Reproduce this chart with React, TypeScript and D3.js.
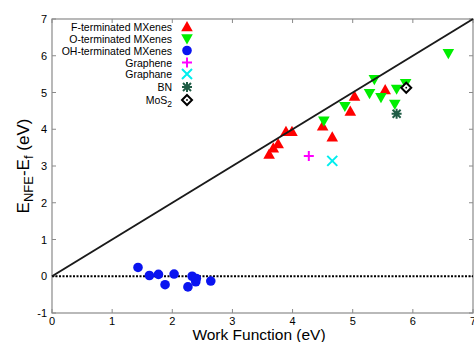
import { useRef, useEffect } from "react";
import * as d3 from "d3";

type Pt = [number, number];

const fTerminated: Pt[] = [
  [3.61, 3.31], [3.68, 3.48], [3.76, 3.6], [3.89, 3.93], [3.99, 3.93],
  [4.5, 4.08], [4.66, 3.78], [4.96, 4.48], [5.03, 4.89], [5.54, 5.07],
];
const oTerminated: Pt[] = [
  [4.52, 4.23], [4.87, 4.63], [5.28, 4.98], [5.36, 5.36], [5.47, 4.87],
  [5.7, 4.69], [5.73, 5.1], [5.88, 5.25], [6.59, 6.07],
];
const ohTerminated: Pt[] = [
  [1.43, 0.24], [1.62, 0.02], [1.77, 0.05], [1.88, -0.23], [2.03, 0.06],
  [2.26, -0.29], [2.33, 0.0], [2.39, -0.15], [2.4, -0.06], [2.64, -0.13],
];
const graphene: Pt[] = [[4.27, 3.27]];
const graphane: Pt[] = [[4.66, 3.14]];
const bn: Pt[] = [[5.73, 4.42]];
const mos2: Pt[] = [[5.89, 5.13]];

const xTicks = [0, 1, 2, 3, 4, 5, 6, 7];
const yTicks = [-1, 0, 1, 2, 3, 4, 5, 6, 7];

const series = [
  { name: "F-terminated MXenes", data: fTerminated, kind: "up", color: "#ff0000" },
  { name: "O-terminated MXenes", data: oTerminated, kind: "down", color: "#00ee00" },
  { name: "OH-terminated MXenes", data: ohTerminated, kind: "circle", color: "#0a14f0" },
  { name: "Graphene", data: graphene, kind: "plus", color: "#ff00ff" },
  { name: "Graphane", data: graphane, kind: "cross", color: "#00eeee" },
  { name: "BN", data: bn, kind: "star", color: "#1f5c45" },
  { name: "MoS2", data: mos2, kind: "diamond", color: "#000000" },
];

const drawMarker = (g: any, kind: string, color: string, cx: number, cy: number) => {
  const m = g.append("g").attr("transform", `translate(${cx},${cy})`);
  if (kind === "up") {
    m.append("path").attr("d", "M0,-6L5.8,4.2L-5.8,4.2Z").attr("fill", color);
  } else if (kind === "down") {
    m.append("path").attr("d", "M0,6L5.8,-4.2L-5.8,-4.2Z").attr("fill", color);
  } else if (kind === "circle") {
    m.append("circle").attr("r", 4.8).attr("fill", color);
  } else if (kind === "plus") {
    m.append("path").attr("d", "M-5,0H5M0,-5V5").attr("stroke", color).attr("stroke-width", 2);
  } else if (kind === "cross") {
    m.append("path").attr("d", "M-5,-5L5,5M-5,5L5,-5").attr("stroke", color).attr("stroke-width", 2);
  } else if (kind === "star") {
    m.append("path")
      .attr("d", "M-5,0H5M0,-5V5M-4,-4L4,4M-4,4L4,-4")
      .attr("stroke", color)
      .attr("stroke-width", 2);
  } else if (kind === "diamond") {
    m.append("path").attr("d", "M0,-5L5,0L0,5L-5,0Z").attr("fill", "#fff").attr("stroke", color).attr("stroke-width", 2);
    m.append("circle").attr("r", 0.9).attr("fill", color);
  }
};

const App = () => {
  const svgRef = useRef<SVGSVGElement>(null);

  useEffect(() => {
    const svg = d3.select(svgRef.current);
    svg.selectAll("*").remove();

    const left = 52, right = 473, top = 19, bottom = 313;
    const x = d3.scaleLinear().domain([0, 7]).range([left, right]);
    const y = d3.scaleLinear().domain([-1, 7]).range([bottom, top]);
    const frame = "#8a8a8a";
    const font = "Liberation Sans, Arial, Helvetica, sans-serif";

    // ticks
    const tk = svg.append("g").attr("stroke", frame).attr("stroke-width", 1);
    xTicks.forEach((t) => {
      tk.append("line").attr("x1", x(t)).attr("x2", x(t)).attr("y1", bottom).attr("y2", bottom - 4);
      tk.append("line").attr("x1", x(t)).attr("x2", x(t)).attr("y1", top).attr("y2", top + 4);
    });
    yTicks.forEach((t) => {
      tk.append("line").attr("x1", left).attr("x2", left + 4).attr("y1", y(t)).attr("y2", y(t));
      tk.append("line").attr("x1", right).attr("x2", right - 4).attr("y1", y(t)).attr("y2", y(t));
    });

    svg
      .append("rect")
      .attr("x", left)
      .attr("y", top)
      .attr("width", right - left)
      .attr("height", bottom - top)
      .attr("fill", "none")
      .attr("stroke", frame)
      .attr("stroke-width", 1.2);

    svg
      .append("g")
      .selectAll("text")
      .data(xTicks)
      .enter()
      .append("text")
      .attr("x", (d) => x(d))
      .attr("y", bottom + 12)
      .attr("text-anchor", "middle")
      .attr("font-family", font)
      .attr("font-size", 11)
      .text((d) => d);

    svg
      .append("g")
      .selectAll("text")
      .data(yTicks)
      .enter()
      .append("text")
      .attr("x", left - 5)
      .attr("y", (d) => y(d) + 4)
      .attr("text-anchor", "end")
      .attr("font-family", font)
      .attr("font-size", 11)
      .text((d) => d);

    // zero line
    svg
      .append("line")
      .attr("x1", x(0))
      .attr("x2", x(7))
      .attr("y1", y(0))
      .attr("y2", y(0))
      .attr("stroke", "#000")
      .attr("stroke-width", 2)
      .attr("stroke-dasharray", "2,1.5");

    // points
    const pts = svg.append("g");
    series.forEach((s) => {
      s.data.forEach((d) => drawMarker(pts, s.kind, s.color, x(d[0]), y(d[1])));
    });

    // y = x line
    svg
      .append("line")
      .attr("x1", x(0))
      .attr("y1", y(0))
      .attr("x2", x(7))
      .attr("y2", y(7))
      .attr("stroke", "#1a1a1a")
      .attr("stroke-width", 2);

    // legend
    const rowY = [27, 38.5, 50.5, 62.5, 74, 87, 100];
    const lg = svg.append("g");
    series.forEach((s, i) => {
      const t = lg
        .append("text")
        .attr("x", 172)
        .attr("y", rowY[i] + 4)
        .attr("text-anchor", "end")
        .attr("font-family", font)
        .attr("font-size", 10.5);
      if (s.name === "MoS2") {
        t.append("tspan").text("MoS");
        t.append("tspan").attr("font-size", 8.5).attr("dy", 3).text("2");
      } else {
        t.text(s.name);
      }
      drawMarker(lg, s.kind, s.color, 187, rowY[i]);
    });

    // axis labels
    svg
      .append("text")
      .attr("x", 259)
      .attr("y", 340)
      .attr("text-anchor", "middle")
      .attr("font-family", font)
      .attr("font-size", 15.5)
      .text("Work Function (eV)");

    const yl = svg
      .append("text")
      .attr("transform", "translate(29,166) rotate(-90)")
      .attr("text-anchor", "middle")
      .attr("font-family", font)
      .attr("font-size", 17);
    yl.append("tspan").text("E");
    yl.append("tspan").attr("font-size", 13).attr("dy", 4).text("NFE");
    yl.append("tspan").attr("dy", -4).text("-E");
    yl.append("tspan").attr("font-size", 13).attr("dy", 4).text("f");
    yl.append("tspan").attr("dy", -4).text(" (eV)");
  }, []);

  return (
    <svg
      ref={svgRef}
      width={474}
      height={342}
      style={{ position: "absolute", left: 0, top: 0, background: "#fff" }}
    />
  );
};

export default App;
